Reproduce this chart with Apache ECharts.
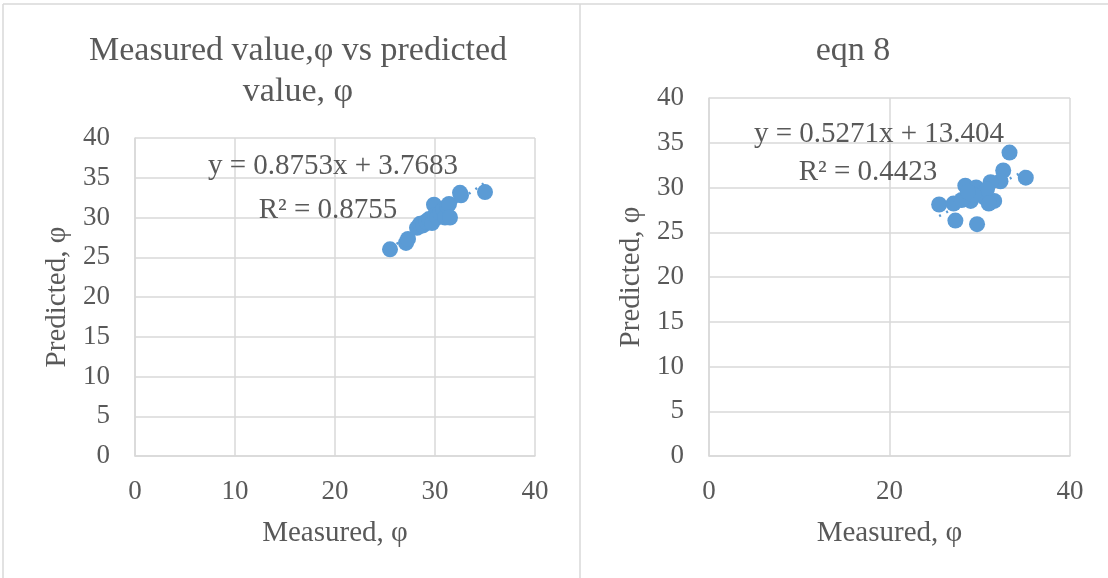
<!DOCTYPE html>
<html>
<head>
<meta charset="utf-8">
<script src="https://cdn.jsdelivr.net/npm/echarts@6/dist/echarts.min.js"></script>
<style>html,body{margin:0;padding:0;background:#fff}#c{width:1108px;height:578px}</style>
</head>
<body>
<div id="c"></div>
<script>
// Chart 1: Measured vs predicted
const measured1 = [25.5, 27.1, 27.3, 28.2, 28.5, 28.8, 29.1, 29.4, 29.7, 29.9, 30.0, 30.2, 30.5, 30.8, 31.0, 31.2, 31.4, 31.5, 32.5, 32.6, 35.0];
const predicted1 = [26.0, 26.8, 27.3, 28.7, 29.2, 29.0, 29.5, 29.8, 29.3, 31.6, 30.3, 30.0, 30.6, 31.0, 30.0, 31.4, 31.7, 30.0, 33.1, 32.8, 33.2];
const trendX1 = [25.5, 35.0];
const trendY1 = [26.1, 34.4];
// Chart 2: eqn 8
const measured2 = [33.3, 35.1, 32.6, 32.3, 25.5, 27.1, 27.3, 29.7, 28.4, 29.6, 31.2, 31.6, 30.5, 29.0, 28.0, 30.0, 30.8, 31.0, 29.3, 28.7];
const predicted2 = [33.9, 31.1, 31.9, 30.7, 28.1, 28.2, 26.3, 25.9, 30.2, 30.0, 30.6, 28.5, 28.9, 28.5, 28.6, 29.3, 29.8, 28.2, 29.2, 29.5];
const trendX2 = [25.5, 35.0];
const trendY2 = [26.8, 31.9];
const title1 = "Measured value,φ vs predicted\nvalue, φ";
const title2 = "eqn 8";
const eq1 = "y = 0.8753x + 3.7683";
const r1 = "R² = 0.8755";
const eq2 = "y = 0.5271x + 13.404";
const r2 = "R² = 0.4423";
const xName = "Measured, φ";
const yName = "Predicted, φ";

const pairs = (a, b) => a.map((v, i) => [v, b[i]]);
const FONT = "'Liberation Serif','Times New Roman',serif";
const TXT = '#595959';
const GRID = '#d9d9d9';
const BLUE = '#5b9bd5';

function xAxis(gi, interval) {
  return {
    type: 'value', gridIndex: gi, min: 0, max: 40, interval: interval,
    name: xName, nameLocation: 'middle', nameGap: 63,
    nameTextStyle: {fontFamily: FONT, fontSize: 29, color: TXT},
    axisLine: {show: true, lineStyle: {color: GRID, width: 1.5}},
    axisTick: {show: false},
    axisLabel: {fontFamily: FONT, fontSize: 27, color: TXT, margin: 22},
    splitLine: {show: true, lineStyle: {color: GRID, width: 1.5}}
  };
}
function yAxis(gi) {
  return {
    type: 'value', gridIndex: gi, min: 0, max: 40, interval: 5,
    name: yName, nameLocation: 'middle', nameGap: 63,
    nameTextStyle: {fontFamily: FONT, fontSize: 29, color: TXT},
    axisLine: {show: true, lineStyle: {color: GRID, width: 1.5}},
    axisTick: {show: false},
    axisLabel: {fontFamily: FONT, fontSize: 27, color: TXT, margin: 25},
    splitLine: {show: true, lineStyle: {color: GRID, width: 1.5}}
  };
}

const chart = echarts.init(document.getElementById('c'), null, {renderer: 'canvas'});
chart.setOption({
  animation: false,
  backgroundColor: '#fff',
  title: [
    {text: title1, left: 293, top: 26, textAlign: 'center',
     textStyle: {fontFamily: FONT, fontSize: 34, fontWeight: 'normal', color: TXT, lineHeight: 41}},
    {text: title2, left: 848, top: 26, textAlign: 'center',
     textStyle: {fontFamily: FONT, fontSize: 34, fontWeight: 'normal', color: TXT, lineHeight: 41}}
  ],
  grid: [
    {left: 135, top: 138, width: 400, height: 318},
    {left: 709, top: 98, width: 361, height: 358}
  ],
  xAxis: [xAxis(0, 10), xAxis(1, 20)],
  yAxis: [yAxis(0), yAxis(1)],
  series: [
    {type: 'line', xAxisIndex: 0, yAxisIndex: 0, data: pairs(trendX1, trendY1), symbol: 'none',
     lineStyle: {color: BLUE, width: 2.5, type: [2, 6]}, z: 2},
    {type: 'scatter', xAxisIndex: 0, yAxisIndex: 0, data: pairs(measured1, predicted1), symbolSize: 16,
     itemStyle: {color: BLUE, opacity: 1}, z: 3},
    {type: 'line', xAxisIndex: 1, yAxisIndex: 1, data: pairs(trendX2, trendY2), symbol: 'none',
     lineStyle: {color: BLUE, width: 2.5, type: [2, 6]}, z: 2},
    {type: 'scatter', xAxisIndex: 1, yAxisIndex: 1, data: pairs(measured2, predicted2), symbolSize: 16,
     itemStyle: {color: BLUE, opacity: 1}, z: 3}
  ],
  graphic: [
    {type: 'line', shape: {x1: 3, y1: 4, x2: 1108, y2: 4}, style: {stroke: '#d9d9d9', lineWidth: 1.5}, silent: true},
    {type: 'line', shape: {x1: 3, y1: 4, x2: 3, y2: 578}, style: {stroke: '#d9d9d9', lineWidth: 1.5}, silent: true},
    {type: 'line', shape: {x1: 580, y1: 4, x2: 580, y2: 578}, style: {stroke: '#d9d9d9', lineWidth: 1.5}, silent: true},
    {type: 'text', x: 333, y: 166, z: 10, style: {text: eq1, fontFamily: FONT, fontSize: 29, fill: TXT, align: 'center', verticalAlign: 'middle'}},
    {type: 'text', x: 328, y: 210, z: 10, style: {text: r1, fontFamily: FONT, fontSize: 29, fill: TXT, align: 'center', verticalAlign: 'middle'}},
    {type: 'text', x: 879, y: 134, z: 10, style: {text: eq2, fontFamily: FONT, fontSize: 29, fill: TXT, align: 'center', verticalAlign: 'middle'}},
    {type: 'text', x: 868, y: 172, z: 10, style: {text: r2, fontFamily: FONT, fontSize: 29, fill: TXT, align: 'center', verticalAlign: 'middle'}}
  ]
});
</script>
</body>
</html>
